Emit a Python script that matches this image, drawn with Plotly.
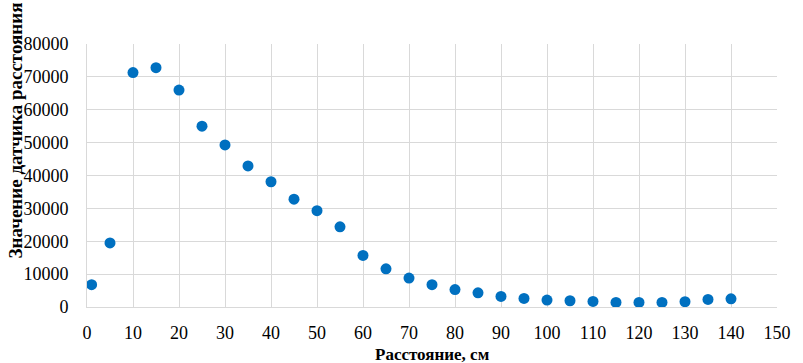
import plotly.graph_objects as go

# Sensor readings vs. distance
distance_cm = [1, 5, 10, 15, 20, 25, 30, 35, 40, 45, 50, 55, 60, 65, 70, 75,
               80, 85, 90, 95, 100, 105, 110, 115, 120, 125, 130, 135, 140]
sensor_value = [6800, 19500, 71300, 72800, 66000, 55000, 49300, 42900, 38100,
                32800, 29300, 24400, 15700, 11600, 8800, 6800, 5300, 4300,
                3200, 2600, 2100, 1900, 1700, 1400, 1400, 1400, 1600, 2300, 2500]

x_ticks = list(range(0, 151, 10))
y_ticks = list(range(0, 80001, 10000))

W, H = 803, 363
L, R, T, B = 87.4, 15.7, 44, 55.7

serif = "Liberation Serif"
grid = "#D9D9D9"

fig = go.Figure(go.Scatter(
    x=distance_cm, y=sensor_value, mode="markers",
    marker=dict(size=11, color="#0070C0", line=dict(width=0)),
    hoverinfo="x+y",
))

fig.update_layout(
    width=W, height=H, autosize=False,
    margin=dict(l=L, r=R, t=T, b=B, pad=0),
    paper_bgcolor="white", plot_bgcolor="white",
    showlegend=False,
    font=dict(family=serif, size=18, color="#000000"),
    xaxis=dict(
        range=[0, 150], tickvals=x_ticks, ticktext=[str(v) for v in x_ticks],
        showgrid=True, gridcolor=grid, gridwidth=1,
        showline=True, linecolor=grid, linewidth=1, mirror=False,
        zeroline=False, ticks="", ticklabelstandoff=9,
        tickfont=dict(family=serif, size=18),
    ),
    yaxis=dict(
        range=[0, 80000], tickvals=y_ticks, ticktext=[str(v) for v in y_ticks],
        showgrid=True, gridcolor=grid, gridwidth=1,
        showline=True, linecolor=grid, linewidth=1,
        zeroline=False, ticks="", ticklabelstandoff=14,
        tickfont=dict(family=serif, size=18),
    ),
    annotations=[
        dict(text="<b>Расстояние, см</b>", xref="paper", yref="paper",
             x=0.5, y=-(355 - (H - B)) / (H - T - B), xanchor="center",
             yanchor="middle", showarrow=False,
             font=dict(family=serif, size=17)),
        dict(text="<b>Значение датчика расстояния</b>", xref="paper",
             yref="paper", x=(15 - L) / (W - L - R),
             y=((H - B) - 131) / (H - T - B), xanchor="center",
             yanchor="middle", textangle=-90, showarrow=False,
             font=dict(family=serif, size=19)),
    ],
)

fig.write_html("out.html")
